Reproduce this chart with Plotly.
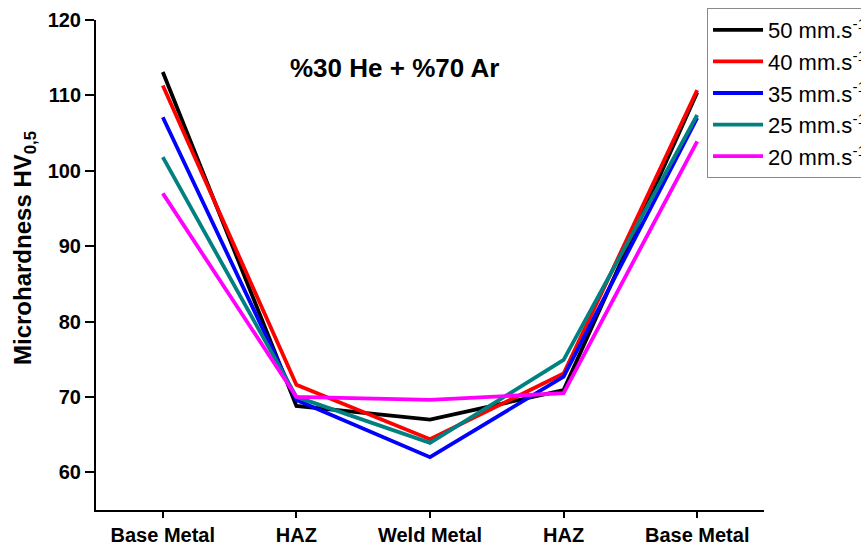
import plotly.graph_objects as go

categories = ["Base Metal", "HAZ", "Weld Metal", "HAZ", "Base Metal"]
positions = [0, 1, 2, 3, 4]

series_names = ["50 mm.s<sup>-1</sup>", "40 mm.s<sup>-1</sup>", "35 mm.s<sup>-1</sup>",
                "25 mm.s<sup>-1</sup>", "20 mm.s<sup>-1</sup>"]
v50 = [113.1, 68.8, 67.0, 70.9, 110.4]
v40 = [111.3, 71.6, 64.4, 73.1, 110.7]
v35 = [107.1, 69.6, 62.0, 72.7, 107.0]
v25 = [101.8, 70.0, 63.9, 74.9, 107.4]
v20 = [97.0, 70.0, 69.6, 70.5, 103.9]
series_values = [v50, v40, v35, v25, v20]
colors = ["#000000", "#ff0000", "#0000ff", "#008080", "#ff00ff"]

y_ticks = [60, 70, 80, 90, 100, 110, 120]

FONT = "Arial, 'Liberation Sans', sans-serif"

fig = go.Figure()
for name, vals, col in zip(series_names, series_values, colors):
    fig.add_trace(go.Scatter(
        x=positions, y=vals, mode="lines", name=name,
        line=dict(color=col, width=3.8)))

fig.update_layout(
    width=861, height=545,
    margin=dict(l=96, r=97, t=20, b=35, autoexpand=False),
    plot_bgcolor="white", paper_bgcolor="white",
    font=dict(family=FONT, color="black"),
    showlegend=True,
    legend=dict(
        x=0.9147, y=1.0245, xanchor="left", yanchor="top",
        bgcolor="white", bordercolor="#8a8a8a", borderwidth=1,
        font=dict(size=22, family=FONT, color="black"),
        tracegroupgap=0, itemwidth=50,
    ),
    xaxis=dict(
        range=[-0.5, 4.5], tickmode="array", tickvals=positions, ticktext=categories,
        showline=True, linecolor="black", linewidth=2, mirror=False,
        ticks="outside", ticklen=6, tickwidth=2, tickcolor="black",
        showgrid=False, zeroline=False,
        tickfont=dict(size=20, family=FONT, weight="bold"),
    ),
    yaxis=dict(
        range=[55, 120], tickmode="array", tickvals=y_ticks,
        showline=True, linecolor="black", linewidth=2, mirror=False,
        ticks="outside", ticklen=9, tickwidth=2, tickcolor="black",
        showgrid=False, zeroline=False,
        tickfont=dict(size=20, family=FONT, weight="bold"),
    ),
    annotations=[
        dict(text="<b>%30 He + %70 Ar</b>", x=0.4476, y=0.902, xref="paper", yref="paper",
             showarrow=False, font=dict(size=26, family=FONT, color="black"),
             xanchor="center", yanchor="middle"),
        dict(text="<b>Microhardness HV<sub>0,5</sub></b>", x=-0.1063, y=0.5347,
             xref="paper", yref="paper", textangle=-90, showarrow=False,
             font=dict(size=24, family=FONT, color="black"),
             xanchor="center", yanchor="middle"),
    ],
)

fig.write_html("out.html")
